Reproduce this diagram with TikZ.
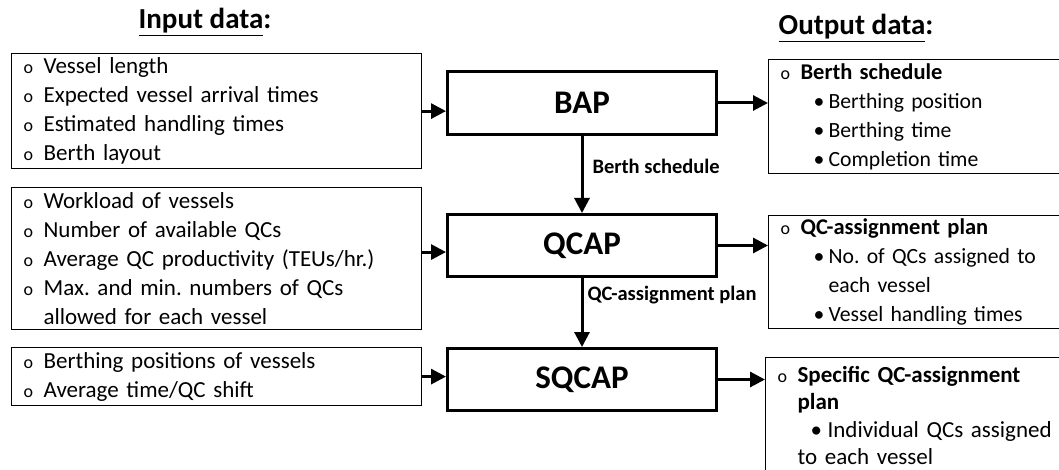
\documentclass[tikz,border=0pt]{standalone}
\usepackage{fontspec}
\setmainfont{Carlito}
\frenchspacing
\usetikzlibrary{arrows.meta,positioning,calc}

\newcommand{\ob}{\makebox[20pt][l]{\fontsize{18}{18}\selectfont o}}
\newcommand{\bul}{\hspace*{33pt}\makebox[15pt][l]{\textbullet}}

\tikzset{
  inbox/.style={draw, line width=1.2pt, anchor=north west, align=left, inner xsep=12pt, inner ysep=0pt, text width=386pt, font=\fontsize{23}{29}\selectfont},
  outbox/.style={inbox, text width=340pt, font=\fontsize{21.7}{29}\selectfont},
  procbox/.style={draw, line width=3pt, anchor=north west, minimum width=269pt, font=\fontsize{33}{33}\selectfont\bfseries},
  arr/.style={line width=3pt, -{Triangle[length=15pt,width=15pt]}},
  flowlabel/.style={font=\fontsize{20.5}{24}\selectfont\bfseries, anchor=west, inner sep=0pt},
  title/.style={font=\fontsize{29}{34}\selectfont\bfseries, anchor=base}
}

\begin{document}
\begin{tikzpicture}[x=1pt,y=-1pt]
  \useasboundingbox (0,0) rectangle (1059,470);
  \clip (0,0) rectangle (1059,470);
  % headings
  \node[title] (intitle) at (205,29) {\underline{Input data}:};
  \node[title] (outtitle) at (856,35) {\underline{Output data}:};
  % input data
  \node[inbox, minimum height=115pt] (in1) at (11,53)
    {\ob Vessel length\\ \ob Expected vessel arrival times\\ \ob Estimated handling times\\ \ob Berth layout};
  \node[inbox, minimum height=142pt] (in2) at (11,187)
    {\ob Workload of vessels\\ \ob Number of available QCs\\ \ob Average QC productivity (TEUs/hr.)\\ \ob Max. and min. numbers of QCs\\ \hspace*{20pt}allowed for each vessel};
  \node[inbox, minimum height=58pt] (in3) at (11,347)
    {\ob Berthing positions of vessels\\ \ob Average time/QC shift};
  % problems
  \node[procbox, minimum height=63pt] (bap) at (446,70) {BAP};
  \node[procbox, minimum height=62pt] (qcap) at (446,213) {QCAP};
  \node[procbox, minimum height=62pt] (sqcap) at (446,347) {SQCAP};
  % output data (boxes run off the right edge)
  \node[outbox, minimum height=114pt] (out1) at (768,59)
    {\ob{\fontsize{22.5}{29}\selectfont\bfseries Berth schedule}\\ \bul Berthing position\\ \bul Berthing time\\ \bul Completion time};
  \node[outbox, minimum height=113pt] (out2) at (768,215)
    {\ob{\fontsize{22.5}{29}\selectfont\bfseries QC-assignment plan}\\ \bul No. of QCs assigned to\\ \hspace*{48pt}each vessel\\ \bul Vessel handling times};
  \node[outbox, minimum height=116pt, font=\fontsize{23}{27.5}\selectfont] (out3) at (765,357)
    {\ob\textbf{Specific QC-assignment}\\ \hspace*{20pt}\textbf{plan}\\ \hspace*{33pt}\makebox[17pt][l]{\textbullet}Individual QCs assigned\\ \hspace*{20pt}to each vessel};
  % arrows
  \coordinate (in2a) at ($(in2.east)!.5!(in2.east|-qcap)$);
  \draw[arr] (in1) -- (in1 -| bap.west);
  \draw[arr] (in2a) -- (in2a -| qcap.west);
  \draw[arr] (in3) -- (in3 -| sqcap.west);
  \draw[arr] (bap) -- (bap -| out1.west);
  \draw[arr] (qcap) -- (qcap -| out2.west);
  \draw[arr] (sqcap) -- (sqcap -| out3.west);
  \draw[arr] (bap) -- (qcap) node[flowlabel, pos=.4, xshift=9pt] (lab1) {Berth schedule};
  \draw[arr] (qcap) -- (sqcap) node[flowlabel, pos=.24, xshift=4pt] (lab2) {QC-assignment plan};
\end{tikzpicture}
\end{document}
